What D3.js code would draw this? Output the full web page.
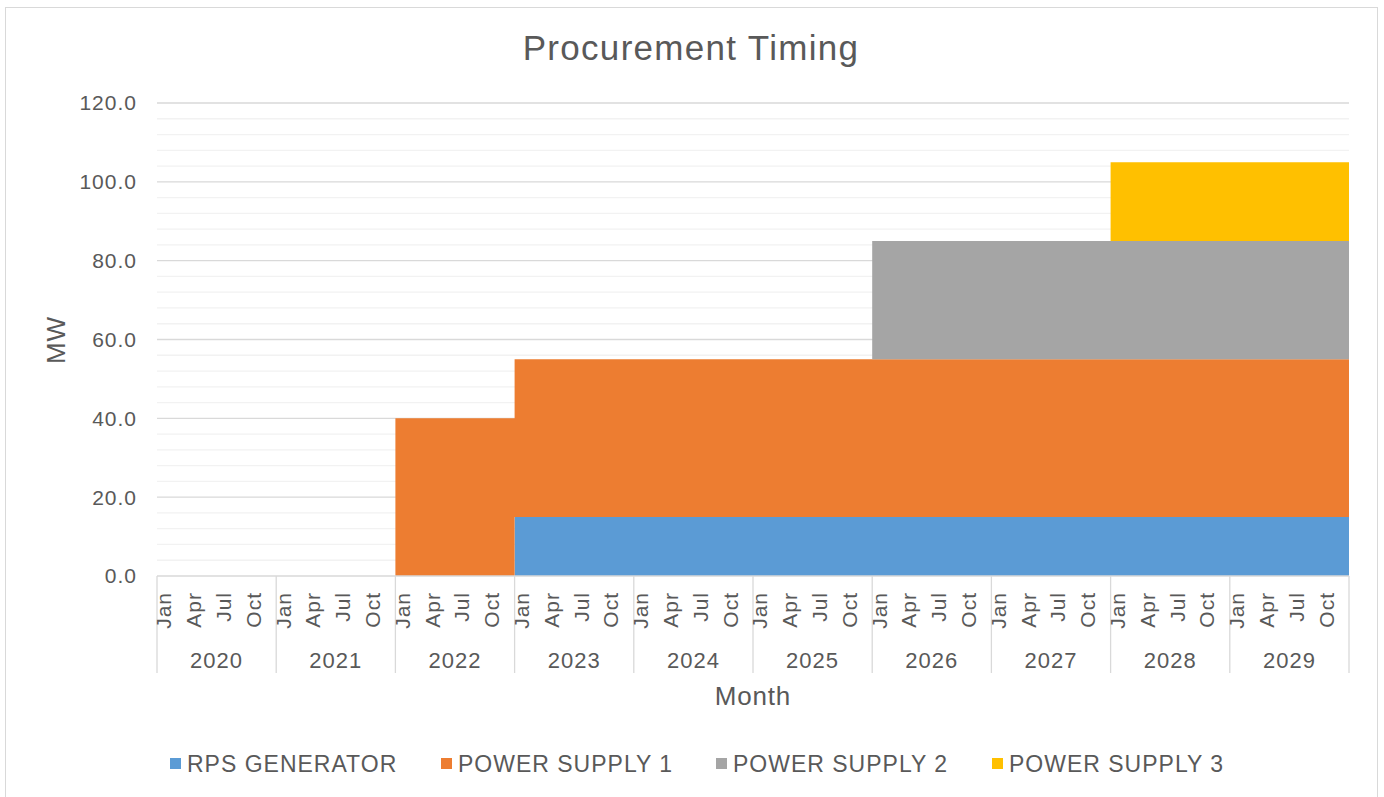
<!DOCTYPE html>
<html>
<head>
<meta charset="utf-8">
<script src="https://cdn.jsdelivr.net/npm/d3@7"></script>
<style>
  body { margin: 0; background: #fff; }
  text { font-family: "Liberation Sans", Arial, sans-serif; fill: #595959; }
</style>
</head>
<body>
<div id="chart"></div>
<script>
var years = ["2020", "2021", "2022", "2023", "2024", "2025", "2026", "2027", "2028", "2029"];
var monthNames = ["Jan", "Feb", "Mar", "Apr", "May", "Jun", "Jul", "Aug", "Sep", "Oct", "Nov", "Dec"];
var shownMonths = ["Jan", "Apr", "Jul", "Oct"];
var seriesNames = ["RPS GENERATOR", "POWER SUPPLY 1", "POWER SUPPLY 2", "POWER SUPPLY 3"];
var colors = ["#5b9bd5", "#ed7d31", "#a5a5a5", "#ffc000"];
var yTicks = [0, 20, 40, 60, 80, 100, 120];

// one row per year, 12 months each
var rpsGenerator = [
  0, 0, 0, 0, 0, 0, 0, 0, 0, 0, 0, 0,
  0, 0, 0, 0, 0, 0, 0, 0, 0, 0, 0, 0,
  0, 0, 0, 0, 0, 0, 0, 0, 0, 0, 0, 0,
  15, 15, 15, 15, 15, 15, 15, 15, 15, 15, 15, 15,
  15, 15, 15, 15, 15, 15, 15, 15, 15, 15, 15, 15,
  15, 15, 15, 15, 15, 15, 15, 15, 15, 15, 15, 15,
  15, 15, 15, 15, 15, 15, 15, 15, 15, 15, 15, 15,
  15, 15, 15, 15, 15, 15, 15, 15, 15, 15, 15, 15,
  15, 15, 15, 15, 15, 15, 15, 15, 15, 15, 15, 15,
  15, 15, 15, 15, 15, 15, 15, 15, 15, 15, 15, 15
];
var powerSupply1 = [
  0, 0, 0, 0, 0, 0, 0, 0, 0, 0, 0, 0,
  0, 0, 0, 0, 0, 0, 0, 0, 0, 0, 0, 0,
  40, 40, 40, 40, 40, 40, 40, 40, 40, 40, 40, 40,
  40, 40, 40, 40, 40, 40, 40, 40, 40, 40, 40, 40,
  40, 40, 40, 40, 40, 40, 40, 40, 40, 40, 40, 40,
  40, 40, 40, 40, 40, 40, 40, 40, 40, 40, 40, 40,
  40, 40, 40, 40, 40, 40, 40, 40, 40, 40, 40, 40,
  40, 40, 40, 40, 40, 40, 40, 40, 40, 40, 40, 40,
  40, 40, 40, 40, 40, 40, 40, 40, 40, 40, 40, 40,
  40, 40, 40, 40, 40, 40, 40, 40, 40, 40, 40, 40
];
var powerSupply2 = [
  0, 0, 0, 0, 0, 0, 0, 0, 0, 0, 0, 0,
  0, 0, 0, 0, 0, 0, 0, 0, 0, 0, 0, 0,
  0, 0, 0, 0, 0, 0, 0, 0, 0, 0, 0, 0,
  0, 0, 0, 0, 0, 0, 0, 0, 0, 0, 0, 0,
  0, 0, 0, 0, 0, 0, 0, 0, 0, 0, 0, 0,
  0, 0, 0, 0, 0, 0, 0, 0, 0, 0, 0, 0,
  30, 30, 30, 30, 30, 30, 30, 30, 30, 30, 30, 30,
  30, 30, 30, 30, 30, 30, 30, 30, 30, 30, 30, 30,
  30, 30, 30, 30, 30, 30, 30, 30, 30, 30, 30, 30,
  30, 30, 30, 30, 30, 30, 30, 30, 30, 30, 30, 30
];
var powerSupply3 = [
  0, 0, 0, 0, 0, 0, 0, 0, 0, 0, 0, 0,
  0, 0, 0, 0, 0, 0, 0, 0, 0, 0, 0, 0,
  0, 0, 0, 0, 0, 0, 0, 0, 0, 0, 0, 0,
  0, 0, 0, 0, 0, 0, 0, 0, 0, 0, 0, 0,
  0, 0, 0, 0, 0, 0, 0, 0, 0, 0, 0, 0,
  0, 0, 0, 0, 0, 0, 0, 0, 0, 0, 0, 0,
  0, 0, 0, 0, 0, 0, 0, 0, 0, 0, 0, 0,
  0, 0, 0, 0, 0, 0, 0, 0, 0, 0, 0, 0,
  20, 20, 20, 20, 20, 20, 20, 20, 20, 20, 20, 20,
  20, 20, 20, 20, 20, 20, 20, 20, 20, 20, 20, 20
];

var width = 1384, height = 797;
var plotLeft = 157, plotRight = 1349, plotTop = 103, plotBottom = 576;

var svg = d3.select("#chart").append("svg")
    .attr("width", width)
    .attr("height", height);

// chart frame
svg.append("rect")
    .attr("x", 5.5).attr("y", 7.5)
    .attr("width", 1372).attr("height", 800)
    .attr("fill", "#fff")
    .attr("stroke", "#d9d9d9");

// table for the stack: one row per month (+ closing row so the last step reaches the edge)
var rows = [];
years.forEach(function(yr, yi) {
    monthNames.forEach(function(m, mi) {
        var i = yi * 12 + mi;
        rows.push({i: i, year: yr, month: m,
            "RPS GENERATOR": rpsGenerator[i],
            "POWER SUPPLY 1": powerSupply1[i],
            "POWER SUPPLY 2": powerSupply2[i],
            "POWER SUPPLY 3": powerSupply3[i]});
    });
});
var lastRow = rows[rows.length - 1];
rows.push(Object.assign({}, lastRow, {i: rows.length}));

var x = d3.scaleLinear().domain([0, years.length * 12]).range([plotLeft, plotRight]);
var y = d3.scaleLinear().domain([0, 120]).range([plotBottom, plotTop]);

// minor gridlines
svg.append("g").selectAll("line")
    .data(d3.range(0, 121, 4).filter(function(v) { return v % 20 !== 0; }))
    .enter().append("line")
    .attr("x1", plotLeft).attr("x2", plotRight)
    .attr("y1", function(d) { return y(d); })
    .attr("y2", function(d) { return y(d); })
    .attr("stroke", "#f2f2f2").attr("stroke-width", 1.3);

// major gridlines
svg.append("g").selectAll("line")
    .data(yTicks.slice(1))
    .enter().append("line")
    .attr("x1", plotLeft).attr("x2", plotRight)
    .attr("y1", function(d) { return y(d); })
    .attr("y2", function(d) { return y(d); })
    .attr("stroke", "#d9d9d9").attr("stroke-width", 1.3);

var stack = d3.stack().keys(seriesNames);
var layers = stack(rows);

var area = d3.area()
    .curve(d3.curveStepAfter)
    .x(function(d) { return x(d.data.i); })
    .y0(function(d) { return y(d[0]); })
    .y1(function(d) { return y(d[1]); });

svg.append("g").selectAll("path")
    .data(layers)
    .enter().append("path")
    .attr("d", area)
    .attr("fill", function(d, i) { return colors[i]; });

// y axis labels
svg.append("g").selectAll("text")
    .data(yTicks)
    .enter().append("text")
    .attr("x", 137)
    .attr("y", function(d) { return y(d); })
    .attr("dy", "0.35em")
    .attr("text-anchor", "end")
    .style("font-size", "21px")
    .style("letter-spacing", "1px")
    .text(function(d) { return d.toFixed(1); });

// category axis line
svg.append("line")
    .attr("x1", plotLeft).attr("x2", plotRight)
    .attr("y1", plotBottom).attr("y2", plotBottom)
    .attr("stroke", "#d9d9d9").attr("stroke-width", 1.3);

// year separators
svg.append("g").selectAll("line")
    .data(d3.range(0, years.length + 1))
    .enter().append("line")
    .attr("x1", function(d) { return x(d * 12); })
    .attr("x2", function(d) { return x(d * 12); })
    .attr("y1", plotBottom).attr("y2", 673)
    .attr("stroke", "#d9d9d9").attr("stroke-width", 1.3);

// month labels
svg.append("g").selectAll("text")
    .data(rows.slice(0, -1).filter(function(d) { return shownMonths.indexOf(d.month) >= 0; }))
    .enter().append("text")
    .attr("transform", function(d) { return "translate(" + (x(d.i + 0.5) + 2) + ",592) rotate(-90)"; })
    .attr("dy", "0.35em")
    .attr("text-anchor", "end")
    .style("font-size", "21px")
    .style("letter-spacing", "1px")
    .text(function(d) { return d.month; });

// year labels
svg.append("g").selectAll("text")
    .data(years)
    .enter().append("text")
    .attr("x", function(d, i) { return x(i * 12 + 6); })
    .attr("y", 668)
    .attr("text-anchor", "middle")
    .style("font-size", "22px")
    .style("letter-spacing", "1px")
    .text(function(d) { return d; });

// titles
svg.append("text")
    .attr("x", 691).attr("y", 60)
    .attr("text-anchor", "middle")
    .style("font-size", "35px")
    .style("letter-spacing", "1.3px")
    .text("Procurement Timing");

svg.append("text")
    .attr("transform", "translate(56,340) rotate(-90)")
    .attr("dy", "0.35em")
    .attr("text-anchor", "middle")
    .style("font-size", "26px")
    .style("letter-spacing", "1px")
    .text("MW");

svg.append("text")
    .attr("x", 753).attr("y", 705)
    .attr("text-anchor", "middle")
    .style("font-size", "26px")
    .style("letter-spacing", "0.8px")
    .text("Month");

// legend
var legendX = [170, 441, 716, 992];
var legend = svg.append("g").selectAll("g")
    .data(seriesNames)
    .enter().append("g")
    .attr("transform", function(d, i) { return "translate(" + legendX[i] + ",758)"; });

legend.append("rect")
    .attr("width", 11).attr("height", 11)
    .attr("fill", function(d, i) { return colors[i]; });

legend.append("text")
    .attr("x", 17).attr("y", 14)
    .style("font-size", "23px")
    .style("letter-spacing", "1px")
    .text(function(d) { return d; });
</script>
</body>
</html>
